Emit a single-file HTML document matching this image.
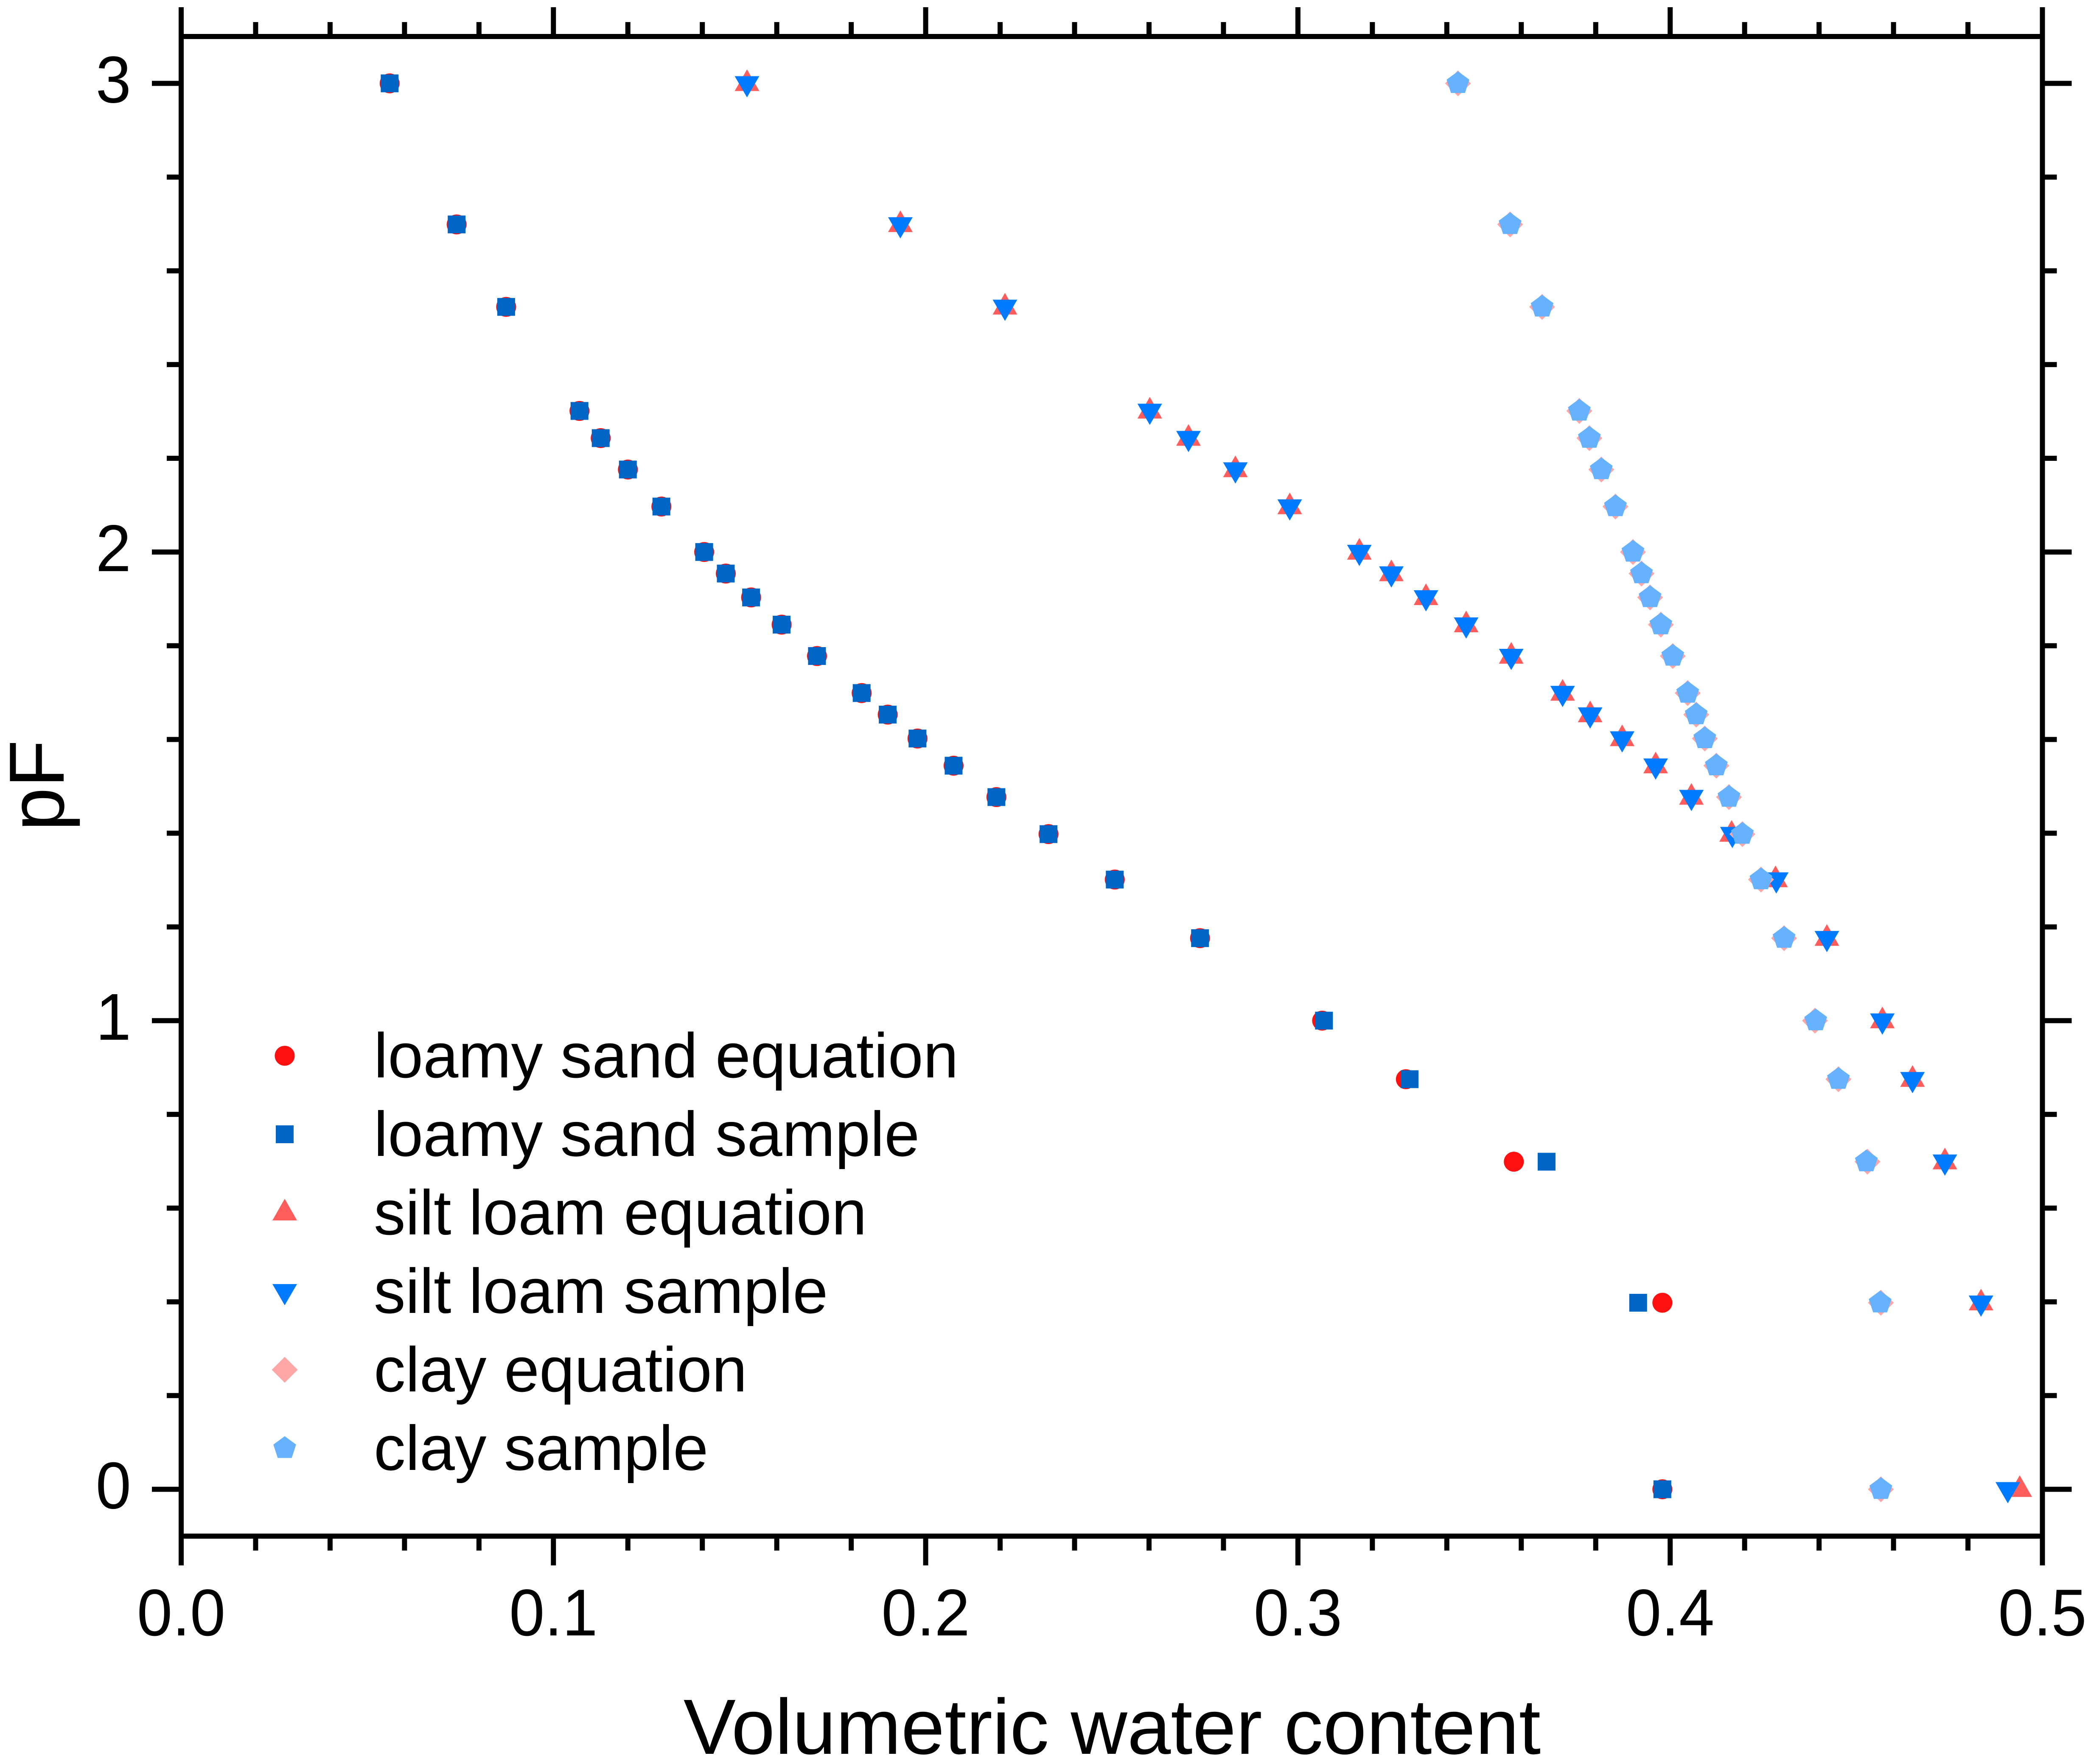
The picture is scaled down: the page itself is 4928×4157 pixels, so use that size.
<!DOCTYPE html>
<html lang="en">
<head>
<meta charset="utf-8">
<title>pF vs volumetric water content</title>
<style>
html,body{margin:0;padding:0;background:#fff;}
svg{display:block;}
text{font-family:"Liberation Sans",Arial,sans-serif;fill:#000;}
</style>
</head>
<body>
<svg id="chart" xmlns="http://www.w3.org/2000/svg" width="4928" height="4157" viewBox="0 0 4928 4157">
  <rect x="0" y="0" width="4928" height="4157" fill="#ffffff"/>
  <g id="series"></g>
  <g id="axes"></g>
  <g id="legend"></g>
  <text x="2621" y="4133" font-size="184.5" text-anchor="middle">Volumetric water content</text>
  <text transform="translate(150,1851) rotate(-90)" font-size="184" text-anchor="middle">pF</text>
</svg>
<script>
const pF = [3,2.699,2.523,2.301,2.243,2.176,2.097,2,1.954,1.903,1.845,1.778,1.699,1.653,1.602,1.544,1.477,1.398,1.301,1.176,1,0.875,0.699,0.398,0];
const loamySandEquation = [0.056,0.074,0.0873,0.107,0.1127,0.12,0.129,0.1405,0.1463,0.1531,0.1613,0.1708,0.1828,0.1898,0.1978,0.2075,0.219,0.2330,0.2508,0.2737,0.3065,0.3290,0.3580,0.3979,0.3979];
const loamySandSample = [0.056,0.074,0.0873,0.107,0.1127,0.12,0.129,0.1405,0.1463,0.1531,0.1613,0.1708,0.1828,0.1898,0.1978,0.2075,0.219,0.2330,0.2508,0.2737,0.3070,0.3300,0.3668,0.3914,0.3979];
const siltLoamEquation = [0.152,0.1932,0.2213,0.2602,0.2706,0.2832,0.2978,0.3165,0.3251,0.3344,0.3452,0.3573,0.3711,0.3785,0.3871,0.3961,0.4057,0.4165,0.4283,0.4421,0.457,0.4651,0.4738,0.4835,0.4939];
const siltLoamSample = [0.152,0.1932,0.2213,0.2602,0.2706,0.2832,0.2978,0.3165,0.3251,0.3344,0.3452,0.3573,0.3711,0.3785,0.3871,0.3961,0.4057,0.4167,0.4285,0.4421,0.457,0.4651,0.4738,0.4835,0.4907];
const clayEquation = [0.343,0.357,0.3656,0.3756,0.3783,0.3815,0.3853,0.39,0.3923,0.3946,0.3975,0.4007,0.4047,0.407,0.4093,0.4124,0.4158,0.4194,0.4244,0.4306,0.4389,0.4452,0.453,0.4566,0.4566];
const claySample = [0.343,0.357,0.3656,0.3756,0.3783,0.3815,0.3853,0.39,0.3923,0.3946,0.3975,0.4007,0.4047,0.407,0.4093,0.4124,0.4158,0.4194,0.4244,0.4306,0.4391,0.4452,0.4527,0.4564,0.4566];
const xTickLabels = ["0.0","0.1","0.2","0.3","0.4","0.5"];
const xTickValues = [0,0.1,0.2,0.3,0.4,0.5];
const xMinorValues = [0.02,0.04,0.06,0.08,0.12,0.14,0.16,0.18,0.22,0.24,0.26,0.28,0.32,0.34,0.36,0.38,0.42,0.44,0.46,0.48];
const yTickLabels = ["0","1","2","3"];
const yTickValues = [0,1,2,3];
const yMinorValues = [0.2,0.4,0.6,0.8,1.2,1.4,1.6,1.8,2.2,2.4,2.6,2.8];
const seriesNames = ["loamy sand equation","loamy sand sample","silt loam equation","silt loam sample","clay equation","clay sample"];
const seriesValues = [loamySandEquation,loamySandSample,siltLoamEquation,siltLoamSample,clayEquation,claySample];

const NS = "http://www.w3.org/2000/svg";
const PL = 427, PR = 4813.5, PT = 86, PB = 3620;
const AW = 12, MAJ = 69, MIN = 34;
function X(v){ return PL + (v - 0) / (0.5 - 0) * (PR - PL); }
function Y(v){ return PB - (v + 0.1) / (3.1 + 0.1) * (PB - PT); }

function make(tag, attrs){
  const el = document.createElementNS(NS, tag);
  for (const k in attrs) el.setAttribute(k, attrs[k]);
  return el;
}
const colors = ["#FF1010","#0066C6","#FF5C5C","#007BFF","#FFA6A6","#66B2FF"];
function pts(list, cx, cy){
  return list.map(function(p){ return (cx + p[0]) + "," + (cy + p[1]); }).join(" ");
}
function marker(kind, cx, cy){
  const fill = colors[kind];
  if (kind === 0) return make("circle", {cx: cx, cy: cy, r: 23.5, fill: fill});
  if (kind === 1) return make("rect", {x: cx - 21, y: cy - 21, width: 42, height: 42, fill: fill});
  if (kind === 2) return make("polygon", {points: pts([[0,-33],[29,18],[-29,18]], cx, cy), fill: fill});
  if (kind === 3) return make("polygon", {points: pts([[-29,-17],[29,-17],[0,33]], cx, cy), fill: fill});
  if (kind === 4) return make("polygon", {points: pts([[0,-30.5],[30.5,0],[0,30.5],[-30.5,0]], cx, cy), fill: fill});
  return make("polygon", {points: pts([[0,-28.5],[26.8,-8.7],[16.5,22.7],[-16.5,22.7],[-26.8,-8.7]], cx, cy), fill: fill});
}

const seriesLayer = document.getElementById("series");
seriesValues.forEach(function(values, s){
  const g = make("g", {});
  
  
  values.forEach(function(v, i){
    const m = marker(s, X(v), Y(pF[i]));
    
    
    g.appendChild(m);
  });
  seriesLayer.appendChild(g);
});

const axes = document.getElementById("axes");
function line(name, x1, y1, x2, y2){
  const l = make("line", {x1: x1, y1: y1, x2: x2, y2: y2, stroke: "#000", "stroke-width": AW});
  
  
  axes.appendChild(l);
}
line("left-axis-line", PL, PT - MAJ, PL, PB + MAJ);
line("right-axis-line", PR, PT - MAJ, PR, PB + MAJ);
line("top-axis-line", PL - 6, PT, PR + 6, PT);
line("bottom-axis-line", PL - 6, PB, PR + 6, PB);

xTickValues.forEach(function(v, i){
  line("x-major-tick-bottom-" + i, X(v), PB, X(v), PB + MAJ);
  line("x-major-tick-top-" + i, X(v), PT, X(v), PT - MAJ);
  const t = make("text", {transform: "translate(" + X(v) + ",3854) scale(1,1.04)", "font-size": 150, "text-anchor": "middle"});
  
  
  t.textContent = xTickLabels[i];
  axes.appendChild(t);
});
xMinorValues.forEach(function(v, i){
  line("x-minor-tick-bottom-" + i, X(v), PB, X(v), PB + MIN);
  line("x-minor-tick-top-" + i, X(v), PT, X(v), PT - MIN);
});
yTickValues.forEach(function(v, i){
  line("y-major-tick-left-" + i, PL, Y(v), PL - MAJ, Y(v));
  line("y-major-tick-right-" + i, PR, Y(v), PR + MAJ, Y(v));
  const t = make("text", {transform: "translate(309," + (Y(v) + 45) + ") scale(1,1.04)", "font-size": 150, "text-anchor": "end"});
  
  
  t.textContent = yTickLabels[i];
  axes.appendChild(t);
});
yMinorValues.forEach(function(v, i){
  line("y-minor-tick-left-" + i, PL, Y(v), PL - MIN, Y(v));
  line("y-minor-tick-right-" + i, PR, Y(v), PR + MIN, Y(v));
});

const legend = document.getElementById("legend");
seriesNames.forEach(function(name, i){
  const cy = 2488 + i * 185;
  const m = marker(i, 671, cy);
  
  
  legend.appendChild(m);
  const t = make("text", {x: 881, y: 2539 + i * 185, "font-size": 149.3});
  
  
  t.textContent = name;
  legend.appendChild(t);
});
</script>
</body>
</html>
